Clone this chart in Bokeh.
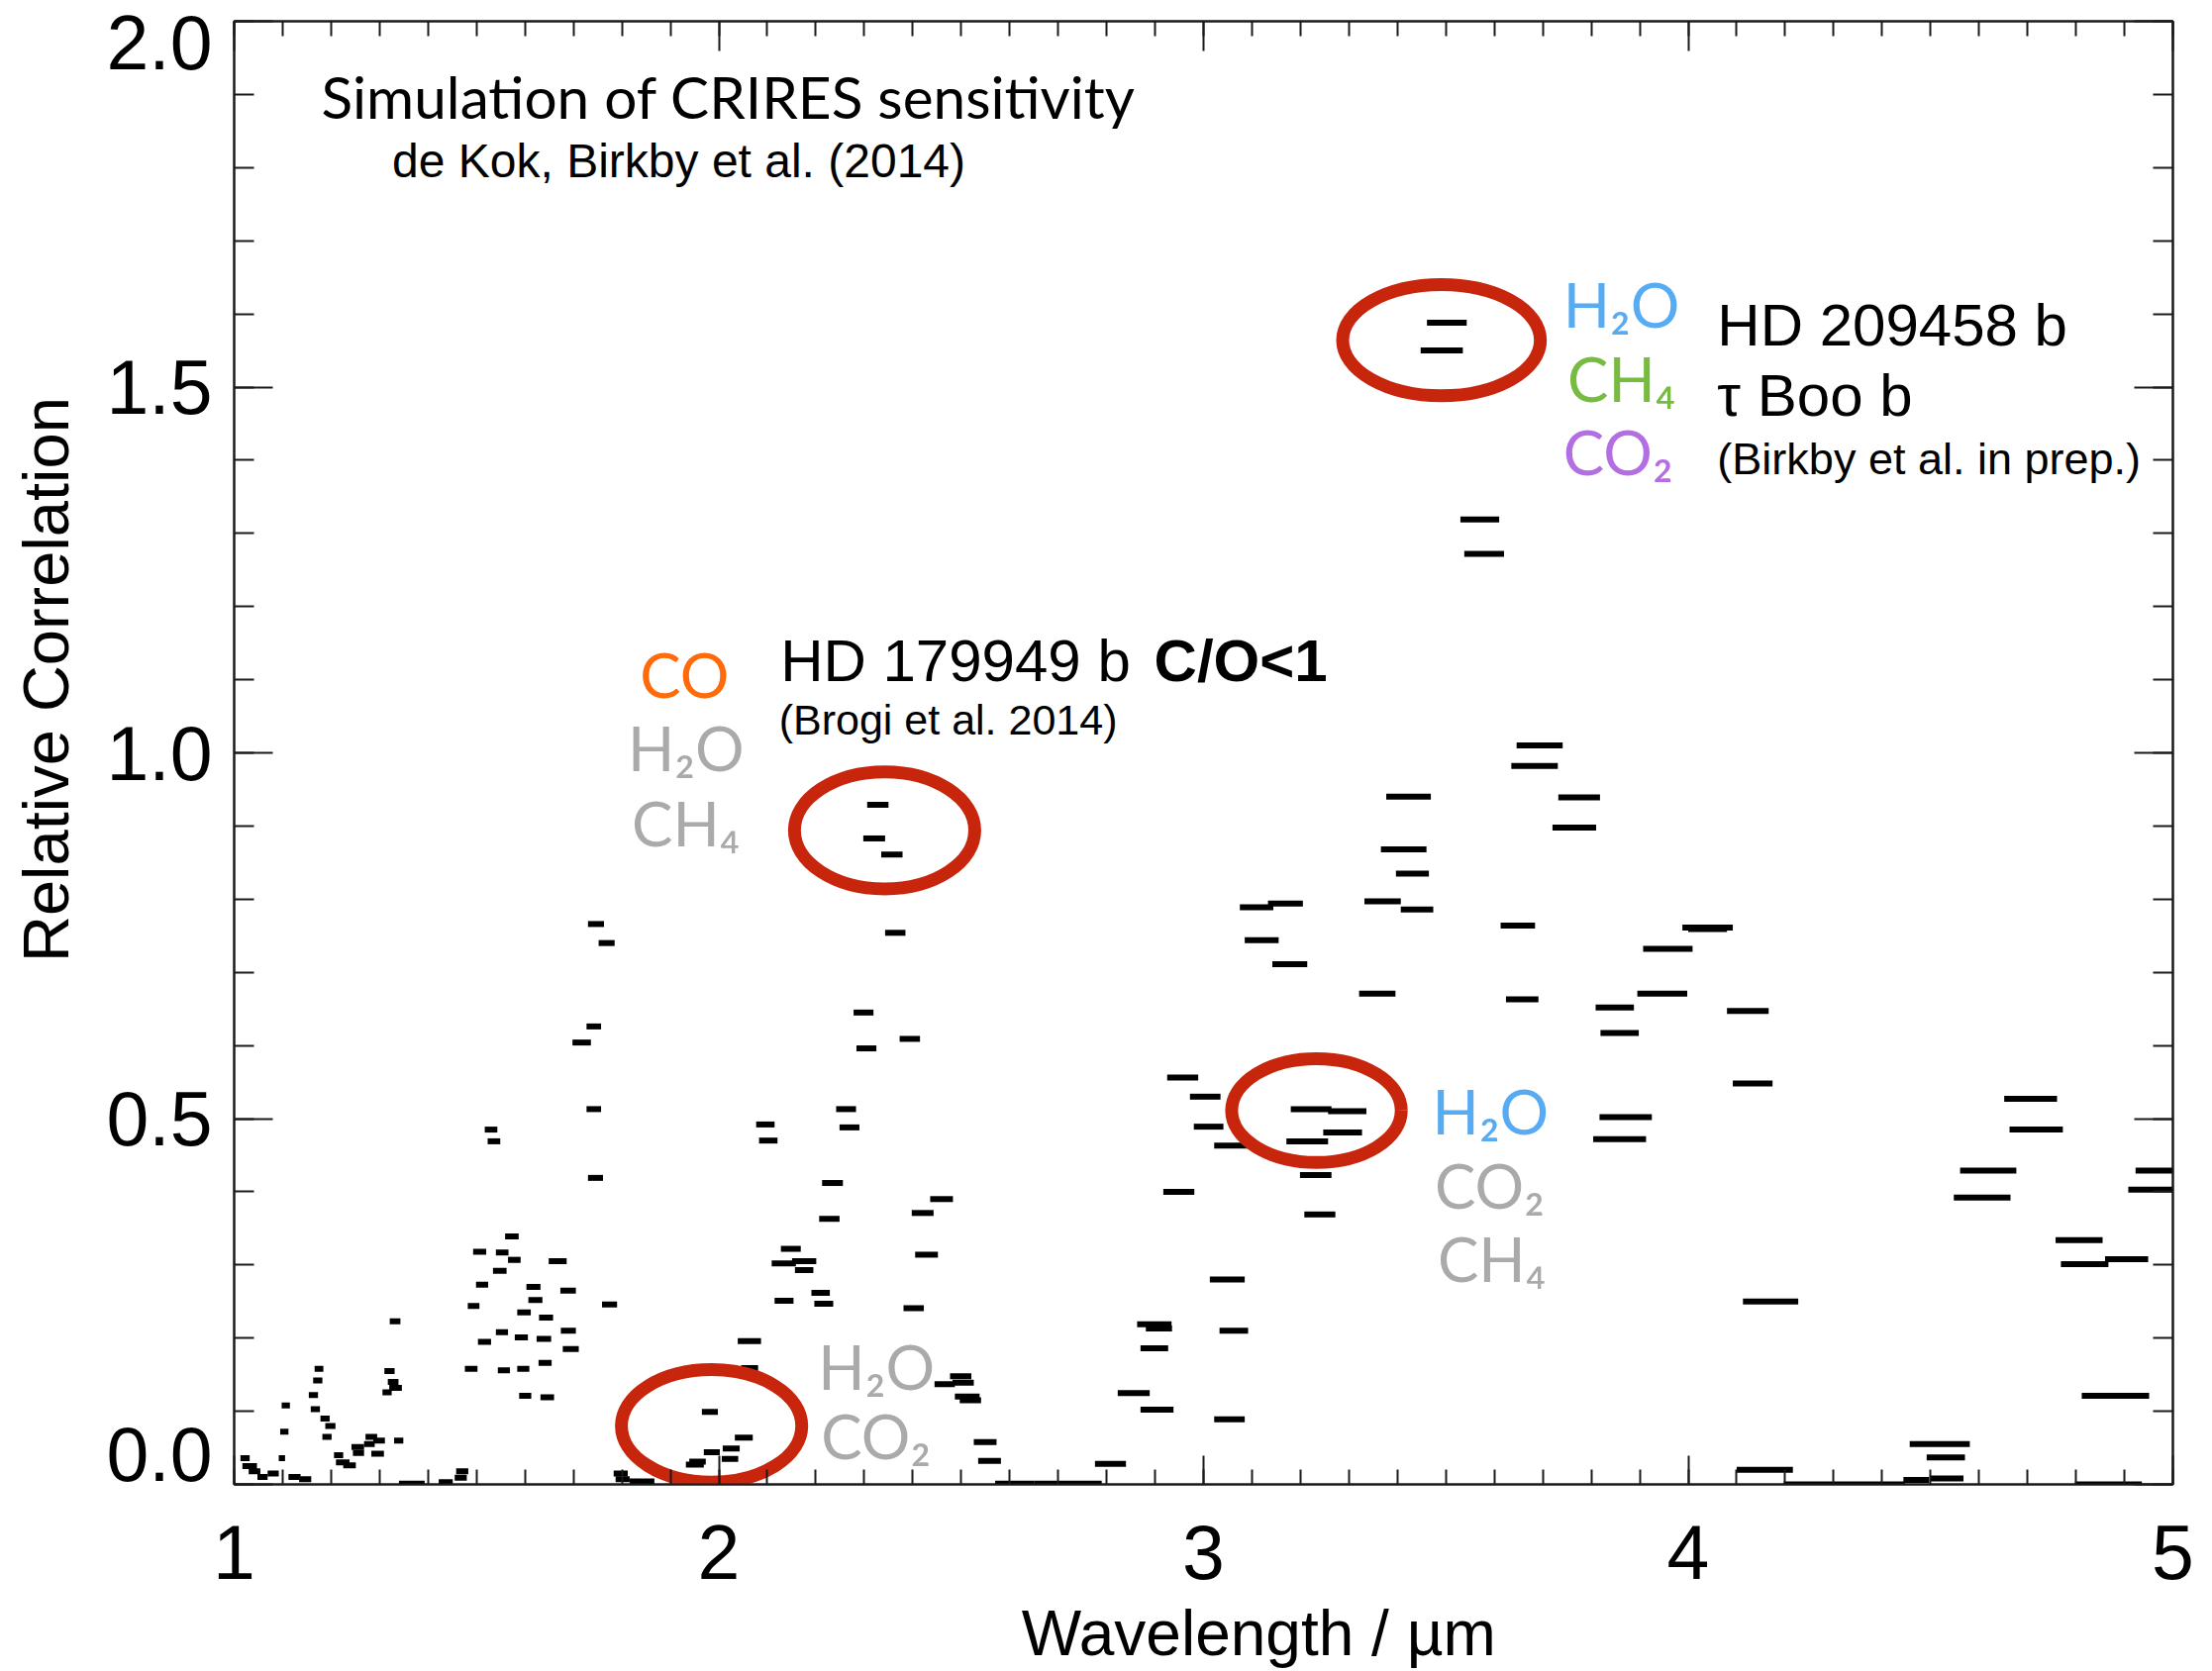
import math
from bokeh.plotting import figure
from bokeh.models import (LinearAxis, SingleIntervalTicker, FixedTicker, Label,
                          ColumnDataSource, PrintfTickFormatter)
from bokeh.embed import file_html
from bokeh.resources import INLINE

# ---------------- data ----------------
seg_start = [1.013,1.017,1.030,1.048,1.069,1.092,1.095,1.098,1.112,1.134,1.154,1.158,1.163,1.166,1.178,1.188,1.182,
             1.206,1.210,1.225,1.242,1.245,1.268,1.271,1.283,1.287,1.306,1.310,1.317,1.320,1.321,1.330,1.340,1.422,
             1.455,1.458,1.476,1.482,1.493,1.499,1.503,1.517,1.523,1.534,1.540,1.540,1.544,1.559,1.565,1.579,1.584,
             1.584,1.588,1.603,1.607,1.624,1.628,1.629,1.632,1.649,1.673,1.674,1.678,1.698,1.727,1.727,1.730,1.730,
             1.752,1.759,1.783,1.787,1.816,1.932,1.939,1.965,1.969,2.006,2.008,2.033,2.039,2.046,2.077,2.083,2.109,
             2.115,2.128,2.151,2.157,2.191,2.197,2.207,2.213,2.242,2.249,2.278,2.284,2.306,2.298,2.335,2.343,2.373,
             2.381,2.398,2.405,2.436,2.445,2.482,2.477,2.487,2.497,2.526,2.535,2.570,2.650,2.776,2.823,2.870,2.863,
             2.881,2.870,2.917,2.925,2.972,2.980,3.022,3.013,3.033,3.022,3.075,3.133,3.085,3.142,3.180,3.257,3.247,
             3.171,3.199,3.208,3.321,3.332,3.407,3.397,3.366,3.377,3.461,3.448,3.530,3.538,3.613,3.624,3.646,3.635,
             3.732,3.720,3.809,3.819,3.817,3.804,3.907,3.895,3.988,4.000,4.080,4.092,4.113,4.100,4.197,4.444,4.457,
             4.492,4.498,4.548,4.561,4.652,4.663,4.758,4.769,4.860,4.812,4.798,4.908,4.923]
seg_end = [1.032,1.047,1.054,1.069,1.092,1.105,1.112,1.115,1.137,1.159,1.173,1.177,1.182,1.184,1.197,1.209,1.201,
           1.225,1.238,1.251,1.268,1.268,1.290,1.295,1.309,1.311,1.325,1.331,1.339,1.346,1.343,1.349,1.393,1.451,
           1.480,1.483,1.502,1.506,1.520,1.524,1.530,1.543,1.549,1.562,1.566,1.565,1.569,1.587,1.591,1.606,1.609,
           1.612,1.613,1.632,1.636,1.654,1.655,1.658,1.660,1.686,1.705,1.705,1.711,1.736,1.757,1.757,1.763,1.761,
           1.785,1.790,1.812,1.816,1.867,1.969,1.973,1.998,2.002,2.040,2.043,2.070,2.087,2.081,2.115,2.121,2.159,
           2.154,2.169,2.201,2.195,2.229,2.236,2.249,2.256,2.283,2.290,2.319,2.325,2.350,2.343,2.379,2.385,2.415,
           2.423,2.443,2.452,2.483,2.487,2.526,2.521,2.538,2.541,2.573,2.582,2.650,2.790,2.840,2.889,2.938,2.934,
           2.935,2.927,2.981,2.989,3.035,3.041,3.092,3.085,3.092,3.085,3.144,3.205,3.155,3.214,3.264,3.336,3.327,
           3.257,3.264,3.272,3.396,3.407,3.474,3.465,3.460,3.469,3.543,3.535,3.610,3.620,3.684,3.691,3.741,3.731,
           3.818,3.810,3.888,3.898,3.925,3.913,4.009,3.998,4.092,4.080,4.166,4.174,4.227,4.216,4.447,4.497,4.581,
           4.571,4.568,4.665,4.677,4.761,4.773,4.855,4.867,4.949,4.951,4.936,5.000,5.000]
seg_corr = [0.036,0.025,0.018,0.010,0.015,0.036,0.072,0.108,0.010,0.007,0.122,0.103,0.142,0.158,0.090,0.080,0.065,
            0.040,0.030,0.026,0.051,0.043,0.055,0.065,0.042,0.060,0.126,0.155,0.140,0.132,0.223,0.060,0.001,0.003,
            0.009,0.018,0.158,0.244,0.318,0.273,0.195,0.485,0.469,0.292,0.317,0.208,0.156,0.339,0.307,0.201,0.158,
            0.235,0.121,0.270,0.252,0.199,0.166,0.228,0.119,0.305,0.265,0.210,0.185,0.604,0.626,0.513,0.766,0.419,
            0.740,0.246,0.015,0.007,0.004,0.027,0.031,0.099,0.044,0.035,0.049,0.064,0.196,0.159,0.492,0.470,0.302,
            0.251,0.322,0.305,0.293,0.262,0.247,0.363,0.412,0.513,0.488,0.645,0.596,0.929,0.883,0.861,0.754,0.609,
            0.241,0.371,0.314,0.390,0.137,0.139,0.148,0.120,0.115,0.058,0.032,0.001,0.001,0.028,0.125,0.102,0.219,
            0.213,0.186,0.400,0.556,0.530,0.489,0.463,0.280,0.210,0.089,0.789,0.794,0.744,0.711,0.513,0.510,0.481,
            0.469,0.423,0.369,0.671,0.797,0.786,0.835,0.868,0.940,1.588,1.550,1.319,1.272,0.764,0.663,1.010,0.982,
            0.939,0.898,0.652,0.617,0.502,0.472,0.732,0.671,0.761,0.759,0.647,0.548,0.250,0.020,0.000,0.006,0.055,
            0.037,0.008,0.392,0.429,0.527,0.485,0.334,0.301,0.308,0.121,0.000,0.403,0.429]

# red rings marking detections
ring_x = [1.985, 2.342, 3.233, 3.491]
ring_y = [0.080, 0.894, 0.511, 1.564]
ring_w = [0.372, 0.372, 0.350, 0.408]
ring_h = [0.154, 0.160, 0.142, 0.152]

x_major = 1.0
y_major = 0.5
y_ticks = [0.0, 0.5, 1.0, 1.5, 2.0]
x_ticks = [1, 2, 3, 4, 5]
# where the y tick labels sit (the end labels are pulled inside the axis span, as in the original)
y_label_pos = [0.0406, 0.5, 1.0, 1.5, 1.971]
x_label = "Wavelength / µm"
y_label = "Relative Correlation"

# ---------------- figure ----------------
p = figure(width=2234, height=1688, x_range=(1, 5), y_range=(0, 2),
           output_backend="svg", toolbar_location=None,
           min_border_left=236, min_border_right=40, min_border_top=21, min_border_bottom=189)
p.background_fill_color = "white"
p.border_fill_color = "white"
p.outline_line_color = "#1a1a1a"
p.outline_line_width = 2
p.xgrid.visible = False
p.ygrid.visible = False

AX = "#1a1a1a"
FONT = "Liberation Sans"
GILL = "Lato"
TICK_FS = "77px"

def style_axis(ax, tin, tmin):
    ax.axis_line_color = AX
    ax.axis_line_width = 2
    ax.major_tick_line_color = AX
    ax.minor_tick_line_color = AX
    ax.major_tick_line_width = 2
    ax.minor_tick_line_width = 2
    ax.major_tick_in = tin
    ax.major_tick_out = 0
    ax.minor_tick_in = tmin
    ax.minor_tick_out = 0

xa = p.xaxis[0]
xa.ticker = SingleIntervalTicker(interval=x_major, num_minor_ticks=10)
style_axis(xa, 29, 15)
xa.major_label_text_font = FONT
xa.major_label_text_font_size = TICK_FS
xa.major_label_text_color = "black"
xa.major_label_standoff = 41

# left axis: ticks only
ya = p.yaxis[0]
ya.ticker = SingleIntervalTicker(interval=y_major, num_minor_ticks=5)
style_axis(ya, 39, 20)
ya.major_label_overrides = {t: "" for t in y_ticks}
ya.major_label_standoff = 0

# left label axis: carries the tick labels
yl = LinearAxis(ticker=FixedTicker(ticks=y_label_pos, minor_ticks=[]),
                formatter=PrintfTickFormatter(format="%.1f"),
                axis_line_color=None, major_tick_line_color=None, minor_tick_line_color=None,
                major_tick_in=0, major_tick_out=0, minor_tick_in=0, minor_tick_out=0,
                major_label_text_font=FONT, major_label_text_font_size=TICK_FS,
                major_label_text_color="black", major_label_standoff=22)
p.add_layout(yl, "left")

top = LinearAxis(ticker=SingleIntervalTicker(interval=x_major, num_minor_ticks=10),
                 major_label_overrides={t: "" for t in x_ticks}, major_label_standoff=0)
style_axis(top, 30, 15)
p.add_layout(top, "above")
right = LinearAxis(ticker=SingleIntervalTicker(interval=y_major, num_minor_ticks=5),
                   major_label_overrides={t: "" for t in y_ticks}, major_label_standoff=0)
style_axis(right, 39, 20)
p.add_layout(right, "right")

# axis titles, placed off-centre along the axis like in the original (side panels are not clipped)
p.add_layout(Label(x=1.0, y=1.100, x_offset=-190, text=y_label, angle=math.pi / 2,
                   text_font=FONT, text_font_size="65px", text_color="black",
                   text_align="center", text_baseline="middle"), "left")
p.add_layout(Label(x=3.114, y=0.0, y_offset=-150, text=x_label,
                   text_font=FONT, text_font_size="64px", text_color="black",
                   text_align="center", text_baseline="middle"), "below")

# ---------------- marks ----------------
src = ColumnDataSource(dict(x0=seg_start, x1=seg_end, y=seg_corr))
p.segment(x0="x0", y0="y", x1="x1", y1="y", source=src, line_color="black",
          line_width=6, line_cap="butt")

rings = ColumnDataSource(dict(x=ring_x, y=ring_y, w=ring_w, h=ring_h))
p.ellipse(x="x", y="y", width="w", height="h", source=rings, fill_alpha=0,
          line_color="#c8250d", line_width=13)

# ---------------- annotations ----------------
def lab(x, y, text, size, color="black", font=FONT, style="normal", align="left"):
    p.add_layout(Label(x=x, y=y, text=text, text_font=font, text_font_size=size,
                       text_color=color, text_font_style=style, text_align=align,
                       text_baseline="middle"))

lab(1.18, 1.898, "Simulation of CRIRES sensitivity", "58.5px", font=GILL)
lab(1.326, 1.809, "de Kok, Birkby et al. (2014)", "48px")

ORANGE = "#ff6a0a"
GRAY = "#a9abaa"
BLUE = "#57abf2"
GREEN = "#77bb41"
PURPLE = "#b36ee3"

lab(1.929, 1.107, "CO", "62px", ORANGE, GILL, align="center")
lab(1.932, 1.007, "H₂O", "62px", GRAY, GILL, align="center")
lab(1.932, 0.905, "CH₄", "62px", GRAY, GILL, align="center")
lab(2.127, 1.126, "HD 179949 b", "60px")
lab(2.898, 1.126, "C/O<1", "60px", style="bold")
lab(2.124, 1.045, "(Brogi et al. 2014)", "43px")

lab(3.742, 1.614, "H₂O", "62px", BLUE, GILL)
lab(3.751, 1.512, "CH₄", "62px", GREEN, GILL)
lab(3.742, 1.412, "CO₂", "62px", PURPLE, GILL)
lab(4.060, 1.585, "HD 209458 b", "60px")
lab(4.060, 1.489, "τ Boo b", "60px")
lab(4.060, 1.402, "(Birkby et al. in prep.)", "45px")

lab(3.472, 0.511, "H₂O", "62px", BLUE, GILL)
lab(3.477, 0.409, "CO₂", "62px", GRAY, GILL)
lab(3.483, 0.309, "CH₄", "62px", GRAY, GILL)

lab(2.205, 0.162, "H₂O", "62px", GRAY, GILL)
lab(2.211, 0.0675, "CO₂", "62px", GRAY, GILL)

open("out.html", "w").write(file_html(p, INLINE))
